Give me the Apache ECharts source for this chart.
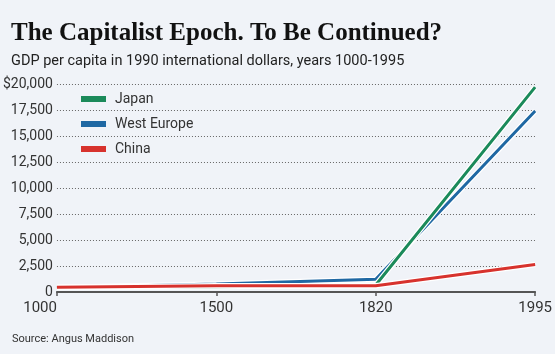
<!DOCTYPE html>
<html>
<head>
<meta charset="utf-8">
<script src="https://cdn.jsdelivr.net/npm/echarts@6/dist/echarts.min.js"></script>
<style>
  html, body { margin: 0; padding: 0; background: #f0f3f8; }
  #chart { width: 555px; height: 354px; }
</style>
</head>
<body>
<div id="chart"></div>
<script>
const years = ['1000', '1500', '1820', '1995']
const japan = [425, 500, 669, 19700]
const westEurope = [427, 771, 1232, 17400]
const china = [450, 600, 600, 2653]
const yTicks = [0, 2500, 5000, 7500, 10000, 12500, 15000, 17500, 20000]

const font = "Roboto, 'Liberation Sans', sans-serif"
const colors = { japan: '#1b8a5a', west: '#1f68a3', china: '#d7322d' }

const chart = echarts.init(document.getElementById('chart'))

// each line gets a thin white halo drawn just under it
function halo(data) {
  return {
    type: 'line',
    data,
    silent: true,
    symbol: 'none',
    lineStyle: { color: '#ffffff', width: 5.5 },
    itemStyle: { color: '#ffffff' },
    emphasis: { disabled: true }
  }
}
function line(name, data, color) {
  return {
    name,
    type: 'line',
    data,
    symbol: 'none',
    lineStyle: { color, width: 3 },
    itemStyle: { color },
    emphasis: { disabled: true }
  }
}

chart.setOption({
  animation: false,
  backgroundColor: '#f0f3f8',
  title: [
    {
      text: 'The Capitalist Epoch. To Be Continued?',
      left: 6,
      top: 16,
      textStyle: {
        fontFamily: "'Liberation Serif', 'DejaVu Serif', serif",
        fontWeight: 'bold',
        fontSize: 25,
        color: '#111'
      }
    },
    {
      text: 'GDP per capita in 1990 international dollars, years 1000-1995',
      left: 6,
      top: 49,
      textStyle: { fontFamily: font, fontWeight: 'normal', fontSize: 14.5, color: '#222' }
    },
    {
      text: 'Source: Angus Maddison',
      left: 7,
      top: 329,
      textStyle: { fontFamily: font, fontWeight: 'normal', fontSize: 11, color: '#333' }
    }
  ],
  legend: {
    data: ['Japan', 'West Europe', 'China'],
    orient: 'vertical',
    left: 76,
    top: 87,
    itemWidth: 25,
    itemHeight: 6,
    itemGap: 11,
    icon: 'rect',
    textStyle: { fontFamily: font, fontSize: 14, color: '#333', padding: [0, 0, 0, 4] }
  },
  grid: { left: 54, right: 12, top: 84, bottom: 62 },
  xAxis: {
    type: 'category',
    data: years,
    boundaryGap: false,
    axisLine: { lineStyle: { color: '#555', width: 2 } },
    axisTick: { length: 4, lineStyle: { color: '#555', width: 1.5 } },
    axisLabel: {
      fontFamily: font,
      fontSize: 15,
      color: '#333',
      margin: 9,
      alignMinLabel: 'right'
    }
  },
  yAxis: {
    type: 'value',
    min: yTicks[0],
    max: yTicks[yTicks.length - 1],
    interval: 2500,
    axisLine: { show: false },
    axisTick: { show: false },
    axisLabel: {
      fontFamily: font,
      fontSize: 14,
      color: '#333',
      margin: 4,
      formatter: v => (v === 20000 ? '$' : '') + v.toLocaleString('en-US')
    },
    splitLine: { lineStyle: { color: '#666', width: 1, type: [1, 2] } }
  },
  series: [
    halo(westEurope),
    line('West Europe', westEurope, colors.west),
    halo(japan),
    line('Japan', japan, colors.japan),
    halo(china),
    line('China', china, colors.china)
  ]
})
</script>
</body>
</html>
